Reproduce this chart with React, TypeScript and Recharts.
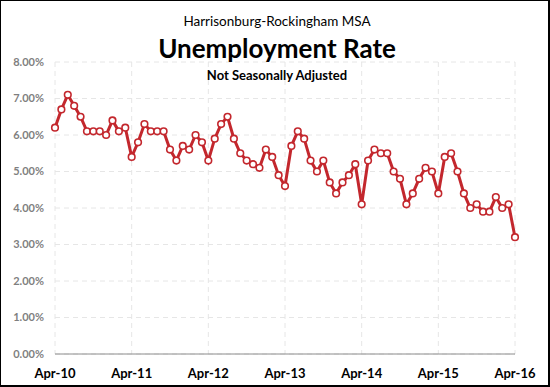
import { LineChart, Line, XAxis, YAxis, CartesianGrid } from "recharts";

const monthNames = ["Jan", "Feb", "Mar", "Apr", "May", "Jun", "Jul", "Aug", "Sep", "Oct", "Nov", "Dec"];

// monthly rate (%), Apr-10 through Apr-16
const rates = [
  6.2, 6.7, 7.1, 6.8, 6.5, 6.1, 6.1, 6.1, 6.0, 6.4, 6.1, 6.2,
  5.4, 5.8, 6.3, 6.1, 6.1, 6.1, 5.6, 5.3, 5.7, 5.6, 6.0, 5.8,
  5.3, 5.9, 6.3, 6.5, 5.9, 5.5, 5.3, 5.2, 5.1, 5.6, 5.4, 4.9,
  4.6, 5.7, 6.1, 5.9, 5.3, 5.0, 5.3, 4.7, 4.4, 4.7, 4.9, 5.2,
  4.1, 5.3, 5.6, 5.5, 5.5, 5.0, 4.8, 4.1, 4.4, 4.8, 5.1, 5.0,
  4.4, 5.4, 5.5, 5.0, 4.4, 4.0, 4.1, 3.9, 3.9, 4.3, 4.0, 4.1,
  3.2,
];

const xTicks = ["Apr-10", "Apr-11", "Apr-12", "Apr-13", "Apr-14", "Apr-15", "Apr-16"];
const yTicks = [0, 1, 2, 3, 4, 5, 6, 7, 8];

// month labels like "Apr-10" starting April 2010
const labels = rates.map((_, i) => {
  const m = (3 + i) % 12;
  const y = 10 + Math.floor((3 + i) / 12);
  return `${monthNames[m]}-${y}`;
});

const data = rates.map((rate, i) => ({ month: labels[i], rate }));

const font = "Lato, 'Open Sans', sans-serif";

export default function App() {
  return (
    <div
      style={{
        position: "absolute",
        left: 0,
        top: 0,
        width: 550,
        height: 387,
        boxSizing: "border-box",
        borderTop: "1px solid #000",
        borderLeft: "1px solid #000",
        borderRight: "2px solid #000",
        borderBottom: "2px solid #000",
        background: "#fff",
        fontFamily: font,
        overflow: "hidden",
      }}
    >
      <div style={{ position: "absolute", left: -1, top: -1 }}>
        <LineChart
          width={550}
          height={387}
          data={data}
          margin={{ top: 62, right: 35, left: 0, bottom: 3 }}
        >
          <CartesianGrid stroke="#e6e6e6" strokeDasharray="5 4" />
          <XAxis
            dataKey="month"
            ticks={xTicks}
            interval={0}
            height={30}
            stroke="#8c8c8c"
            tickLine={false}
            tickSize={0}
            tickMargin={15}
            tick={{ fill: "#000", fontSize: 13, fontWeight: 700, fontFamily: font }}
          />
          <YAxis
            domain={[0, 8]}
            ticks={yTicks}
            width={55}
            axisLine={false}
            tickLine={false}
            tickSize={0}
            tickMargin={11}
            tickFormatter={(v: number) => `${v.toFixed(2)}%`}
            tick={{ fill: "#7f7f7f", fontSize: 11, fontWeight: 700, fontFamily: font }}
          />
          <Line
            type="linear"
            dataKey="rate"
            stroke="#c3272d"
            strokeWidth={3}
            dot={{ r: 3.3, fill: "#fff", stroke: "#c3272d", strokeWidth: 1.6 }}
            isAnimationActive={false}
          />
        </LineChart>
      </div>
      <div style={{ position: "absolute", left: 0, width: 552, top: 12, textAlign: "center", fontSize: 13.5, lineHeight: "16px", color: "#000" }}>
        Harrisonburg-Rockingham MSA
      </div>
      <div style={{ position: "absolute", left: 0, width: 552, top: 32, textAlign: "center", fontSize: 26, fontWeight: 700, lineHeight: "30px", color: "#000" }}>
        Unemployment Rate
      </div>
      <div style={{ position: "absolute", left: 0, width: 552, top: 67, textAlign: "center", fontSize: 13, fontWeight: 700, lineHeight: "14px", color: "#000" }}>
        Not Seasonally Adjusted
      </div>
    </div>
  );
}
